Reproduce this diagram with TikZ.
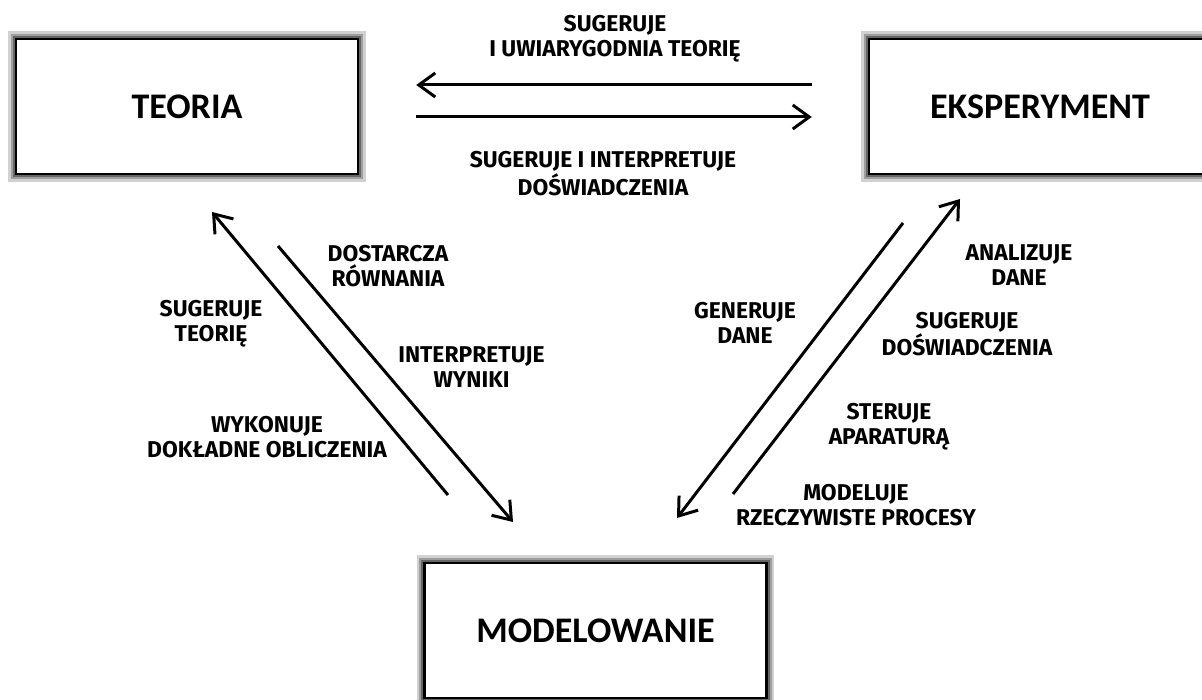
\documentclass[tikz,border=0pt]{standalone}
\usepackage{fontspec}
\setmainfont{Carlito}
\newfontfamily\lblfont{Fira Sans}
\usepackage{tikz}
\usetikzlibrary{positioning,calc,arrows.meta}

\begin{document}
\begin{tikzpicture}[
    blok/.style={draw, line width=1.4pt, fill=white, minimum width=6.84cm, minimum height=2.7cm,
        font=\bfseries\fontsize{20.5}{24}\selectfont,
        preaction={draw=black!18, line width=9pt},
        preaction={draw=black!38, line width=6pt},
        preaction={draw=black!60, line width=3.5pt}},
    opis/.style={align=center, font=\lblfont\bfseries\fontsize{13}{14.3}\selectfont},
    strz/.style={line width=1.7pt, -{Straight Barb[length=3.3mm,width=4.8mm]}}
]
    \useasboundingbox (0,0) rectangle (24.04,14);
    \clip (0,0) rectangle (24.04,14);

    % three blocks
    \node[blok] (teoria) at (3.74,11.87) {TEORIA};
    \node[blok] (eksp) at (20.8,11.87) {EKSPERYMENT};
    \node[blok] (model) at (11.91,1.39) {MODELOWANIE};

    % teoria <-> eksperyment
    \draw[strz, shorten <=1.12cm, shorten >=1.14cm] ([yshift=0.43cm]eksp.west) -- ([yshift=0.43cm]teoria.east);
    \draw[strz, shorten <=1.14cm, shorten >=1.12cm] ([yshift=-0.21cm]teoria.east) -- ([yshift=-0.21cm]eksp.west);
    \node[opis] (t1) at (12.3,13.23) {SUGERUJE\\I UWIARYGODNIA TEORIĘ};
    \node[opis] (t2) at (12.06,10.53) {SUGERUJE I INTERPRETUJE\\DOŚWIADCZENIA};

    % teoria <-> modelowanie
    \coordinate (a1) at (8.96,4.10);
    \coordinate (a2) at (4.24,9.76);
    \coordinate (b1) at (5.56,9.08);
    \coordinate (b2) at (10.26,3.56);
    \draw[strz] (a1) -- (a2);
    \draw[strz] (b1) -- (b2);
    \node[opis] (l1) at (7.76,8.67) {DOSTARCZA\\RÓWNANIA};
    \node[opis] (l2) at (4.22,7.53) {SUGERUJE\\TEORIĘ};
    \node[opis] (l3) at (9.43,6.65) {INTERPRETUJE\\WYNIKI};
    \node[opis] (l4) at (5.34,5.25) {WYKONUJE\\DOKŁADNE OBLICZENIA};

    % eksperyment <-> modelowanie
    \coordinate (c1) at (18.06,9.54);
    \coordinate (c2) at (13.54,3.64);
    \coordinate (d1) at (14.66,4.12);
    \coordinate (d2) at (19.20,10.02);
    \draw[strz] (c1) -- (c2);
    \draw[strz] (d1) -- (d2);
    \node[opis] (r1) at (14.9,7.55) {GENERUJE\\DANE};
    \node[opis] (r2) at (20.38,8.69) {ANALIZUJE\\DANE};
    \node[opis] (r3) at (19.34,7.32) {SUGERUJE\\DOŚWIADCZENIA};
    \node[opis] (r4) at (17.78,5.47) {STERUJE\\APARATURĄ};
    \node[opis] (r5) at (17.12,3.89) {MODELUJE\\RZECZYWISTE PROCESY};
\end{tikzpicture}
\end{document}
